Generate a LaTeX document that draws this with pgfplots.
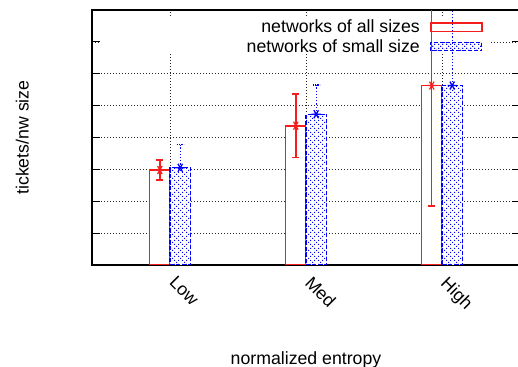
\documentclass[border=0pt]{standalone}
\usepackage{fontspec}
\setmainfont{Liberation Sans}
\usepackage{pgfplots}
\pgfplotsset{compat=1.18}
\usepackage{pgfplotstable}
\usetikzlibrary{patterns}
\pgfdeclarepatternformonly{dotcross}{\pgfqpoint{-0.5bp}{-0.5bp}}{\pgfqpoint{8.5bp}{8.5bp}}{\pgfqpoint{8bp}{8bp}}{%
  \pgfpathrectangle{\pgfqpoint{0bp}{0bp}}{\pgfqpoint{1.1bp}{1.1bp}}%
  \pgfpathrectangle{\pgfqpoint{2bp}{2bp}}{\pgfqpoint{1.1bp}{1.1bp}}%
  \pgfpathrectangle{\pgfqpoint{4bp}{4bp}}{\pgfqpoint{1.1bp}{1.1bp}}%
  \pgfpathrectangle{\pgfqpoint{6bp}{6bp}}{\pgfqpoint{1.1bp}{1.1bp}}%
  \pgfpathrectangle{\pgfqpoint{6bp}{2bp}}{\pgfqpoint{1.1bp}{1.1bp}}%
  \pgfpathrectangle{\pgfqpoint{2bp}{6bp}}{\pgfqpoint{1.1bp}{1.1bp}}%
  \pgfusepath{fill}}
\definecolor{gpred}{RGB}{245,30,30}
% x: category position, xm: centre of this series' bar
\pgfplotstableread{
x xm y e
0 -0.075 2.98 0.31
1 0.925 4.37 1.00
2 1.925 5.63 3.78
}\allsizes
\pgfplotstableread{
x xm y e
0 0.075 3.05 0.72
1 1.075 4.73 0.92
2 2.075 5.63 3.00
}\smallsize
\begin{document}
\begin{tikzpicture}
\begin{axis}[
  at={(92bp,102bp)}, anchor=south west,
  scale only axis, width=428bp, height=255bp,
  xmin=-0.574, xmax=2.574, ymin=0, ymax=8,
  xtick={0,1,2}, xticklabels={Low,Med,High},
  ytick={0,...,8}, yticklabels={},
  grid=major,
  grid style={black!85, line width=0.7bp, dash pattern=on 0.8bp off 2.2bp},
  major tick length=8bp, tick align=inside,
  xtick style={draw=none},
  ytick pos=both,
  ytick style={line width=1bp, black},
  axis line style={line width=1.3bp},
  font=\fontsize{17.7bp}{21bp}\selectfont,
  xticklabel style={rotate=-45, anchor=north west, inner sep=0pt, xshift=12bp, yshift=-2bp},
  xlabel={normalized entropy}, ylabel={tickets/nw size},
  xlabel style={at={(axis description cs:0.5,-0.392)}, anchor=base},
  ylabel style={at={(axis description cs:-0.148,0.5)}, anchor=base},
  legend plot pos=right,
  legend cell align=right,
  legend style={at={(axis cs:2.301,7.694)}, anchor=north east, draw=none, fill=none,
    inner sep=0pt, row sep=5bp, column sep=10.3bp, nodes={inner sep=0pt},
    font=\fontsize{17.7bp}{21bp}\selectfont},
]
\fill[white] (axis cs:-0.51,6.625) rectangle (axis cs:2.353,7.75);
\addplot[ybar, bar width=20.4bp, bar shift=-10.2bp, draw=gpred, fill=white, line width=1.7bp,
  legend image code/.code={\draw[gpred, fill=none, line width=1.6bp] (0bp,-4.3bp) rectangle (51bp,4.3bp);}]
  table[x=x, y=y] {\allsizes};
\addlegendentry{networks of all sizes}
\addplot[ybar, bar width=20.4bp, bar shift=10.2bp, draw=blue, fill=white, line width=1.2bp,
  dash pattern=on 4bp off 2bp,
  postaction={pattern=dotcross, pattern color=blue},
  legend image code/.code={\draw[blue, fill=none, line width=1.2bp, dash pattern=on 4bp off 2bp, pattern=dotcross, pattern color=blue] (0bp,-4.3bp) rectangle (51bp,4.3bp);}]
  table[x=x, y=y] {\smallsize};
\addlegendentry{networks of small size}
\addplot[forget plot, only marks, gpred, mark=asterisk, mark size=4.6bp,
  mark options={rotate=90, solid, line width=1.2bp},
  error bars/.cd, y dir=both, y explicit,
  error bar style={gpred, line width=1.4bp, solid},
  error mark options={gpred, line width=1.4bp, mark size=3.6bp, rotate=90}]
  table[x=xm, y=y, y error=e] {\allsizes};
\addplot[forget plot, only marks, blue, mark=asterisk, mark size=4.6bp,
  mark options={rotate=90, solid, line width=1.3bp},
  error bars/.cd, y dir=plus, y explicit,
  error bar style={blue, line width=1.2bp, dash pattern=on 1.2bp off 2bp},
  error mark options={blue, line width=1.2bp, mark size=3.6bp, rotate=90, dash pattern=on 1.2bp off 1.2bp}]
  table[x=xm, y=y, y error=e] {\smallsize};
\end{axis}
\pgfresetboundingbox
\useasboundingbox (0,0) rectangle (518bp,367bp);
\end{tikzpicture}
\end{document}
